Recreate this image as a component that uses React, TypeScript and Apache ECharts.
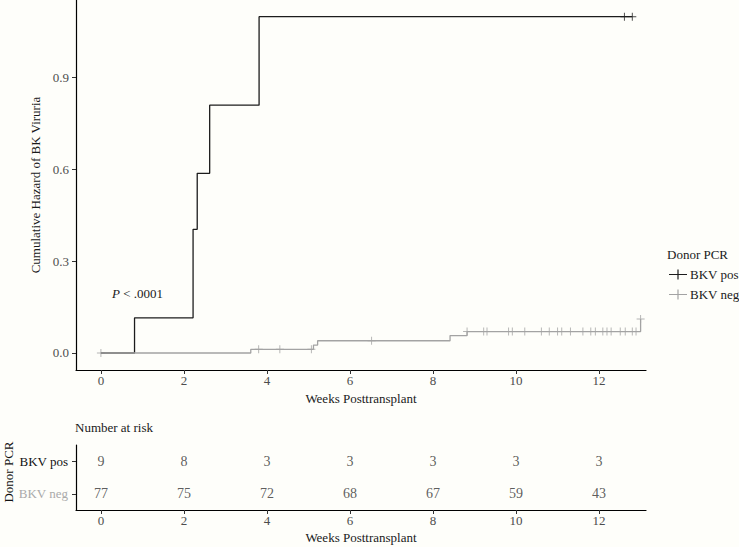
import React, { useEffect, useRef } from "react";
import * as echarts from "echarts";

// ---- data ----
const posTimes = [0, 0.81, 2.22, 2.32, 2.62, 3.81, 12.8];
const posHazard = [0, 0.115, 0.404, 0.587, 0.81, 1.099, 1.099];
const posCensor = [12.61, 12.8];

const negTimes = [0, 3.61, 5.12, 5.22, 8.41, 8.82, 13.0];
const negHazard = [0, 0.012, 0.026, 0.04, 0.057, 0.07, 0.111];
const negCensor = [
  0, 3.8, 4.31, 5.07, 6.52, 8.82, 9.22, 9.3, 9.82, 9.91, 10.21, 10.61, 10.8, 11.0,
  11.1, 11.31, 11.61, 11.8, 11.91, 12.09, 12.19, 12.29, 12.51, 12.63, 12.8, 12.89, 13.0,
];

const riskTimes = [0, 2, 4, 6, 8, 10, 12];
const riskPos = [9, 8, 3, 3, 3, 3, 3];
const riskNeg = [77, 75, 72, 68, 67, 59, 43];

const groups = ["BKV pos", "BKV neg"];
const xTicks = [0, 2, 4, 6, 8, 10, 12];
const yTicks = [0, 0.3, 0.6, 0.9];

const FONT = "Liberation Serif";
const POS_COLOR = "#1c1c1c";
const NEG_COLOR = "#a3a3a3";

function stepAt(times: number[], vals: number[], t: number) {
  let v = vals[0];
  for (let i = 0; i < times.length; i++) {
    if (times[i] <= t + 1e-9) v = vals[i];
  }
  return v;
}

const plusIcon = "path://M4.4,0h1.2v10h-1.2z M0,4.4h10v1.2h-10z";
const legendIcon = "path://M0,4.4h18v1.2h-18z M8.4,0h1.2v10h-1.2z";

export default function App() {
  const ref = useRef<HTMLDivElement>(null);
  useEffect(() => {
    if (!ref.current) return;
    const chart = echarts.init(ref.current, null, { renderer: "svg" });
    const axisLine = { show: true, onZero: false, lineStyle: { color: "#000", width: 1.2 } };
    const axisTickX = { show: true, length: 4, lineStyle: { color: "#333" }, customValues: xTicks };
    const labelStyle = { fontFamily: FONT, fontSize: 13, color: "#4d4d4d" };
    const nameStyle = { fontFamily: FONT, fontSize: 13, color: "#1a1a1a" };

    chart.setOption({
      animation: false,
      backgroundColor: "#fefefa",
      textStyle: { fontFamily: FONT },
      grid: [
        { left: 76, top: 0, width: 570, height: 370, outerBoundsMode: "none", containLabel: false },
        { left: 76, top: 445, width: 570, height: 65, outerBoundsMode: "none", containLabel: false },
      ],
      legend: {
        orient: "vertical",
        left: 664,
        top: 263,
        itemWidth: 18,
        itemHeight: 10,
        itemGap: 7,
        selectedMode: false,
        data: [
          { name: "BKV pos", icon: legendIcon, itemStyle: { color: POS_COLOR } },
          { name: "BKV neg", icon: legendIcon, itemStyle: { color: NEG_COLOR } },
        ],
        textStyle: { fontFamily: FONT, fontSize: 13, color: "#1a1a1a", padding: [0, 0, 0, -2] },
      },
      xAxis: [
        {
          type: "value",
          gridIndex: 0,
          min: -0.6,
          max: 13.13,
          axisLine,
          axisTick: axisTickX,
          splitLine: { show: false },
          axisLabel: { ...labelStyle, margin: 4, customValues: xTicks },
          name: "Weeks Posttransplant",
          nameLocation: "middle",
          nameGap: 21,
          nameTextStyle: nameStyle,
        },
        {
          type: "value",
          gridIndex: 1,
          min: -0.6,
          max: 13.13,
          axisLine,
          axisTick: axisTickX,
          splitLine: { show: false },
          axisLabel: { ...labelStyle, margin: 4, customValues: xTicks },
          name: "Weeks Posttransplant",
          nameLocation: "middle",
          nameGap: 21,
          nameTextStyle: nameStyle,
        },
      ],
      yAxis: [
        {
          type: "value",
          gridIndex: 0,
          min: -0.0556,
          max: 1.1536,
          axisLine,
          axisTick: { show: true, length: 4, lineStyle: { color: "#333" }, customValues: yTicks },
          splitLine: { show: false },
          axisLabel: {
            ...labelStyle,
            margin: 7,
            customValues: yTicks,
            formatter: (v: number) => v.toFixed(1),
          },
          name: "Cumulative Hazard of BK Viruria",
          nameLocation: "middle",
          nameGap: 31,
          nameTextStyle: nameStyle,
        },
        {
          type: "category",
          gridIndex: 1,
          data: ["BKV neg", "BKV pos"],
          axisLine,
          axisTick: { show: true, length: 4, alignWithLabel: true, lineStyle: { color: "#333" } },
          splitLine: { show: false },
          axisLabel: {
            margin: 8,
            formatter: (v: string) => (v === "BKV pos" ? "{p|" + v + "}" : "{n|" + v + "}"),
            rich: {
              p: { fontFamily: FONT, fontSize: 13, color: "#111" },
              n: { fontFamily: FONT, fontSize: 13, color: "#aaaaaa" },
            },
          },
        },
      ],
      graphic: [
        {
          type: "text",
          left: 112,
          top: 287,
          style: {
            text: "{i|P} < .0001",
            font: "13px " + FONT,
            fill: "#1a1a1a",
            rich: { i: { fontFamily: FONT, fontSize: 13, fontStyle: "italic", fill: "#1a1a1a" } },
          },
        },
        {
          type: "text",
          left: 667,
          top: 248,
          style: { text: "Donor PCR", font: "13px " + FONT, fill: "#1a1a1a" },
        },
        {
          type: "text",
          left: 75,
          top: 421,
          style: { text: "Number at risk", font: "13px " + FONT, fill: "#1a1a1a" },
        },
        {
          type: "text",
          x: 8,
          y: 472,
          rotation: Math.PI / 2,
          style: {
            text: "Donor PCR",
            font: "13px " + FONT,
            fill: "#111",
            align: "center",
            verticalAlign: "middle",
          },
        },
      ],
      series: [
        {
          name: "BKV pos",
          type: "line",
          step: "end",
          xAxisIndex: 0,
          yAxisIndex: 0,
          showSymbol: false,
          symbol: "none",
          lineStyle: { color: POS_COLOR, width: 1.3 },
          itemStyle: { color: POS_COLOR },
          data: posTimes.map((t, i) => [t, posHazard[i]]),
        },
        {
          name: "BKV neg",
          type: "line",
          step: "end",
          xAxisIndex: 0,
          yAxisIndex: 0,
          showSymbol: false,
          symbol: "none",
          lineStyle: { color: NEG_COLOR, width: 1.3 },
          itemStyle: { color: NEG_COLOR },
          data: negTimes.map((t, i) => [t, negHazard[i]]),
        },
        {
          name: "BKV pos",
          type: "scatter",
          xAxisIndex: 0,
          yAxisIndex: 0,
          symbol: plusIcon,
          symbolSize: 8,
          itemStyle: { color: POS_COLOR },
          data: posCensor.map((t) => [t, stepAt(posTimes, posHazard, t)]),
        },
        {
          name: "BKV neg",
          type: "scatter",
          xAxisIndex: 0,
          yAxisIndex: 0,
          symbol: plusIcon,
          symbolSize: 8,
          itemStyle: { color: NEG_COLOR },
          data: negCensor.map((t) => [t, stepAt(negTimes, negHazard, t)]),
        },
        {
          name: "risk",
          type: "scatter",
          xAxisIndex: 1,
          yAxisIndex: 1,
          symbolSize: 1,
          itemStyle: { color: "rgba(0,0,0,0)" },
          label: {
            show: true,
            position: "inside",
            formatter: (p: any) => String(p.value[2]),
            fontFamily: FONT,
            fontSize: 14,
            color: "#333333",
          },
          data: [
            ...riskTimes.map((t, i) => [t, groups[0], riskPos[i]]),
            ...riskTimes.map((t, i) => [t, groups[1], riskNeg[i]]),
          ],
        },
      ],
    });
    return () => chart.dispose();
  }, []);
  return (
    <div
      ref={ref}
      style={{ position: "absolute", left: 0, top: 0, width: 739, height: 547 }}
    />
  );
}
